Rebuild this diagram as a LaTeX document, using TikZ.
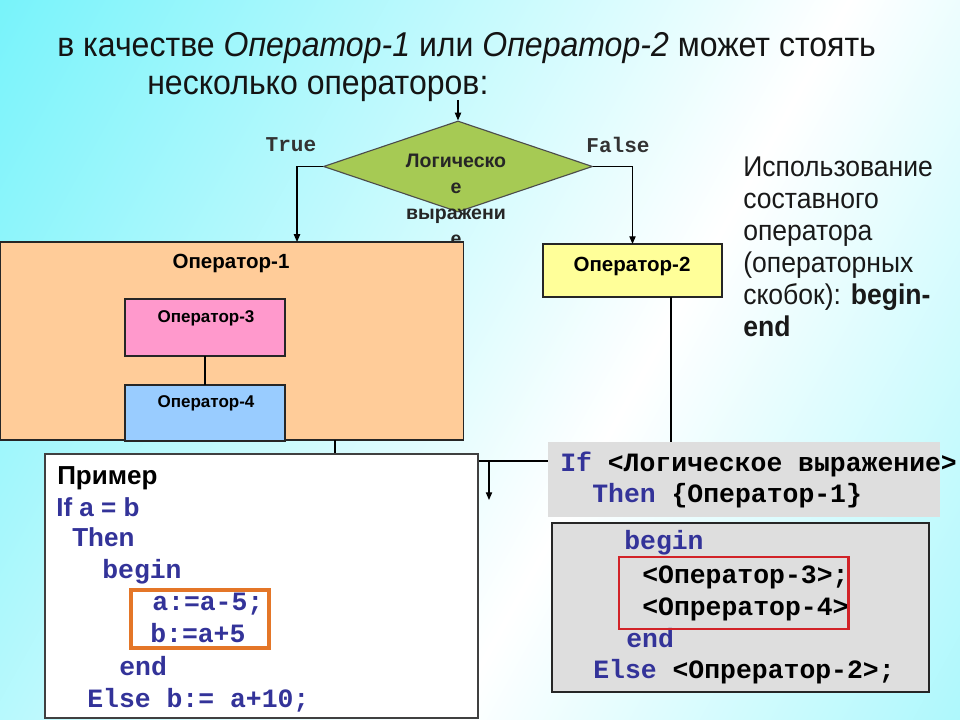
\documentclass[tikz,border=0pt]{standalone}
\usepackage{fontspec}
\setmainfont{Liberation Sans}
\newfontfamily\codefont{Liberation Mono}
\newfontfamily\narrowfont[FakeStretch=0.93]{Liberation Sans}
\usetikzlibrary{shapes.geometric,arrows.meta,calc}
\definecolor{bgcyan}{RGB}{108,242,250}
\definecolor{diac}{RGB}{166,202,84}
\definecolor{op1c}{RGB}{255,204,153}
\definecolor{op2c}{RGB}{255,255,153}
\definecolor{op3c}{RGB}{255,153,204}
\definecolor{op4c}{RGB}{153,204,255}
\definecolor{codeblue}{RGB}{51,51,153}
\definecolor{boxgray}{RGB}{222,222,222}
\definecolor{hlred}{RGB}{210,35,40}
\definecolor{hlorange}{RGB}{228,118,40}
\begin{document}
\begin{tikzpicture}[x=0.025cm,y=-0.025cm,
  box/.style={draw=black!85, line width=0.8pt, inner sep=0, outer sep=0},
  lbl/.style={font=\bfseries\fontsize{14.6}{17}\selectfont, inner sep=0, anchor=base},
  lbls/.style={font=\bfseries\fontsize{12.1}{14}\selectfont, inner sep=0, anchor=base},
  conn/.style={line width=0.8pt, draw=black},
  arr/.style={conn, -{Triangle[length=5.5pt,width=4.5pt]}},
  title/.style={font=\narrowfont\fontsize{24.5}{28}\selectfont, text=black!92, inner sep=0, anchor=base west},
  side/.style={font=\narrowfont\fontsize{20.3}{24}\selectfont, text=black!90, inner sep=0, anchor=base west},
  diat/.style={font=\bfseries\fontsize{13.9}{16}\selectfont, text=black!85, inner sep=0, anchor=base},
  tf/.style={font=\codefont\bfseries\fontsize{15}{17}\selectfont, text=black!80, inner sep=0},
  ex/.style={font=\bfseries\fontsize{18.5}{22}\selectfont, inner sep=0, anchor=base west},
  code/.style={font=\codefont\bfseries\fontsize{18.8}{22}\selectfont, inner sep=0, anchor=base west},
  hl/.style={draw, inner sep=0, outer sep=0, fill=none}
]
\useasboundingbox (0,0) rectangle (960,720);
% background
\begin{scope}
\clip (0,0) rectangle (960,720);
\shade[left color=bgcyan, right color=bgcyan, middle color=white, shading angle=61]
  (-160,-450) rectangle (1460,1170);
\end{scope}

% title
\node[title] (t1) at (57,57) {в качестве \textit{Оператор-1} или \textit{Оператор-2} может стоять};
\node[title] (t2) at (147,95) {несколько операторов:};

% decision
\node[diamond, draw=black!70, fill=diac, line width=0.8pt, minimum width=6.725cm,
      minimum height=2.275cm, inner sep=0] (dia) at (458,166.5) {};
\coordinate (in) at (458,100);
\draw[arr] (in) -- (dia.north);
\node[diat] (d1) at (456,168) {Логическо};
\node[diat] (d2) at (456,194) {е};
\node[diat] (d3) at (456,220) {выражени};
\node[diat] (d4) at (456,246) {е};
\node[tf] (true) at (291,145) {True};
\node[tf] (false) at (618,145) {False};

% operator boxes
\node[box, fill=op1c, minimum width=11.575cm, minimum height=4.95cm] (op1) at (231.5,341) {};
\node[lbl] (op1l) at (231,269) {Оператор-1};
\node[box, fill=op3c, minimum width=4cm, minimum height=1.425cm] (op3) at (205,327.5) {};
\node[lbls] (op3l) at (206,323) {Оператор-3};
\node[box, fill=op4c, minimum width=4cm, minimum height=1.4cm] (op4) at (205,413) {};
\node[lbls] (op4l) at (206,408) {Оператор-4};
\draw[conn] (op3.south) -- (op4.north);
\node[box, fill=op2c, minimum width=4.475cm, minimum height=1.325cm] (op2) at (632.5,270.5) {};
\node[lbl] (op2l) at (632,272) {Оператор-2};

\coordinate (tx) at (297,0);
\draw[arr] (dia.west) -| (tx |- op1.north);
\draw[arr] (dia.east) -| (op2.north);

% join
\coordinate (j1) at (335,461);
\coordinate (j2) at (671,461);
\coordinate (ja) at (489,461);
\coordinate (jb) at (489,500);
\draw[conn] (j1 |- op1.south) -- (j1) -- (j2) -- (j2 |- op2.south);
\draw[arr] (ja) -- (jb);

% example box
\node[box, draw=black!75, fill=white, minimum width=10.825cm, minimum height=6.6cm] (exbox) at (261.5,586) {};
\node[ex, text=black] (e1) at (57,485) {Пример};
\node[ex, text=codeblue] (e2) at (56,517) {If a = b};
\node[ex, text=codeblue] (e3) at (72,547) {Then};
\node[code, text=codeblue] (e4) at (102,578) {begin};
\node[code, text=codeblue] (e5) at (152,610) {a:=a-5;};
\node[code, text=codeblue] (e6) at (150,642) {b:=a+5};
\node[code, text=codeblue] (e7) at (119,675) {end};
\node[code, text=codeblue] (e8) at (87,707) {Else b:= a+10;};
\node[hl, draw=hlorange, line width=2.4pt, minimum width=3.45cm, minimum height=1.45cm] (orbox) at (200,619) {};

% syntax boxes
\node[inner sep=0, outer sep=0, fill=boxgray, minimum width=9.8cm, minimum height=1.875cm] (ifbox) at (744,479.5) {};
\node[code] (s1) at (560,472) {\textcolor{codeblue}{If} <Логическое выражение>};
\node[code] (s2) at (592,503) {\textcolor{codeblue}{Then} \{Оператор-1\}};
\node[box, fill=boxgray, minimum width=9.425cm, minimum height=4.225cm] (codebox) at (740.5,607.5) {};
\node[code, text=codeblue] (s3) at (624,550) {begin};
\node[code] (s4) at (642,583) {<Оператор-3>;};
\node[code] (s5) at (642,615) {<Опрератор-4>};
\node[code, text=codeblue] (s6) at (626,647) {end};
\node[code] (s7) at (593,678) {\textcolor{codeblue}{Else} <Опрератор-2>;};
\node[hl, draw=hlred, line width=2.1pt, minimum width=5.725cm, minimum height=1.8cm] (redbox) at (733.5,593) {};

% side text
\node[side] (r1) at (743,177) {Использование};
\node[side] (r2) at (743,209) {составного};
\node[side] (r3) at (743,241) {оператора};
\node[side] (r4) at (743,273) {(операторных};
\node[side] (r5) at (743,305) {скобок): \textbf{begin-}};
\node[side] (r6) at (743,337) {\textbf{end}};
\end{tikzpicture}
\end{document}
